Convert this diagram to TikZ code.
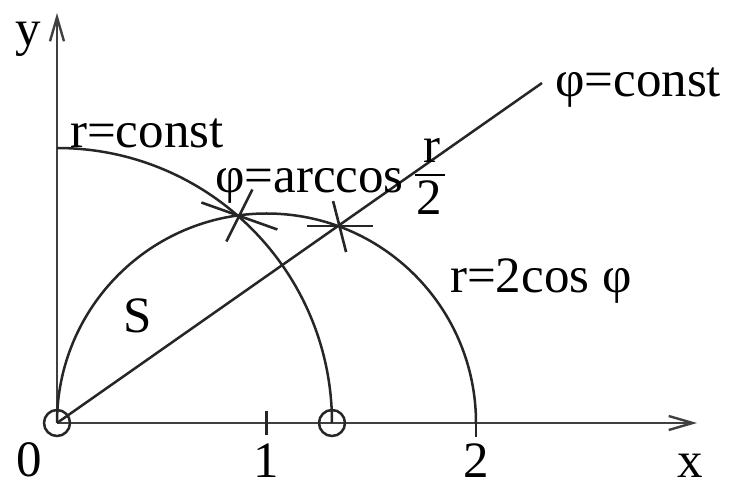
\documentclass[tikz,border=0pt]{standalone}
\usepackage{fontspec}
\setmainfont{Liberation Serif}
\usetikzlibrary{arrows.meta,calc}
\begin{document}
\begin{tikzpicture}[x=1pt,y=1pt,
  curve/.style={line width=2.5pt,black!85},
  axis/.style={line width=2.8pt,black!75,-{Straight Barb[length=24pt,width=14pt,line width=2.4pt]}},
  xmark/.style={line width=2.6pt,black!85},
  lbl/.style={inner sep=0pt,font=\fontsize{51}{60}\selectfont}]
\useasboundingbox (-57,-66) rectangle (676,423);
\coordinate (O) at (0,0);
\coordinate (xend) at (640,0);
\coordinate (yend) at (0,410);
\coordinate (lend) at (485,340);
\coordinate (A) at (275,0);
\coordinate (B) at (419,0);
\coordinate (P1) at (180.4,207.5);
\coordinate (P2) at (281.1,196.9);
% axes
\draw[axis] (O) -- (xend);
\draw[axis] (O) -- (yend);
% ticks
\draw[curve] (209.5,-12) -- (209.5,12);
\draw[curve] (419,-14) -- (419,0);
% curves
\draw[curve] (A) arc[start angle=0,end angle=90,radius=275];
\draw[curve] (B) arc[start angle=0,end angle=180,radius=209.5];
\draw[curve] (O) -- (lend);
% small circles
\draw[curve] (O) circle[radius=13];
\draw[curve] (A) circle[radius=13];
% intersection marks
\draw[xmark] ($(P1)+(-36,13)$) -- ($(P1)+(40,-14)$);
\draw[xmark] ($(P1)+(-11,-26)$) -- ($(P1)+(15,26)$);
\draw[xmark] ($(P2)+(-31,0)$) -- ($(P2)+(35,0)$);
\draw[xmark] ($(P2)+(-5,25)$) -- ($(P2)+(8,-26)$);
% labels
\node[lbl,anchor=base west] (ly) at (-42,377) {y};
\node[lbl,anchor=base west] (lrc) at (13,275) {r=const};
\node[lbl,anchor=base west] (larc) at (158,230) {φ=arccos};
\draw[line width=2.4pt] (358,248) -- (388,248);
\node[lbl,anchor=base] (lfr) at (374.5,260) {r};
\node[lbl,anchor=base] (lf2) at (372.5,208) {2};
\node[lbl,anchor=base west] (lpc) at (498,326) {φ=const};
\node[lbl,anchor=base west] (lrcos) at (393,130) {r=2cos φ};
\node[lbl,anchor=base west] (lS) at (66,90) {S};
\node[lbl,anchor=base west] (l0) at (-41,-54) {0};
\node[lbl,anchor=base] (l1) at (209.5,-55) {1};
\node[lbl,anchor=base] (l2) at (419,-55) {2};
\node[lbl,anchor=base west] (lx) at (620,-55) {x};
\end{tikzpicture}
\end{document}
